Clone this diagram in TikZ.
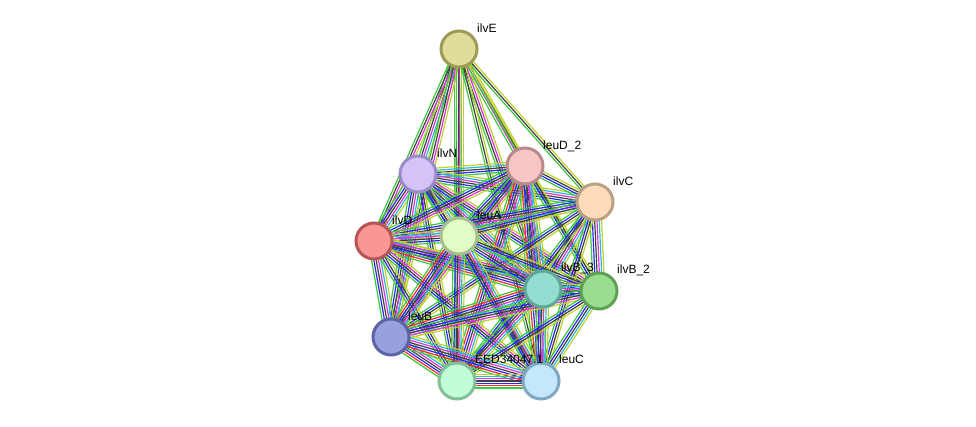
\documentclass[tikz,border=0pt]{standalone}
\usepackage{fontspec}
\setmainfont{Liberation Sans}
\usetikzlibrary{calc,backgrounds}

% evidence channel colours
\definecolor{grn}{RGB}{62,200,62}
\definecolor{frd}{RGB}{250,40,40}
\definecolor{blu}{RGB}{40,40,250}
\definecolor{blk}{RGB}{64,64,64}
\definecolor{mag}{RGB}{222,50,222}
\definecolor{cyn}{RGB}{40,185,225}
\definecolor{yel}{RGB}{190,210,45}

% protein colours (fill, rim)
\definecolor{ilvEf}{RGB}{223,221,155}  \definecolor{ilvEd}{RGB}{158,155,85}
\definecolor{ilvNf}{RGB}{211,195,247}  \definecolor{ilvNd}{RGB}{154,140,200}
\definecolor{leuDf}{RGB}{246,198,198}  \definecolor{leuDd}{RGB}{185,138,138}
\definecolor{ilvCf}{RGB}{253,219,187}  \definecolor{ilvCd}{RGB}{188,160,132}
\definecolor{ilvDf}{RGB}{249,150,150}  \definecolor{ilvDd}{RGB}{184,85,85}
\definecolor{leuAf}{RGB}{227,253,199}  \definecolor{leuAd}{RGB}{167,192,143}
\definecolor{ilvBiiif}{RGB}{148,222,209} \definecolor{ilvBiiid}{RGB}{95,167,151}
\definecolor{ilvBiif}{RGB}{155,221,142}  \definecolor{ilvBiid}{RGB}{93,161,85}
\definecolor{leuBf}{RGB}{152,160,221}  \definecolor{leuBd}{RGB}{92,100,165}
\definecolor{EEDf}{RGB}{194,252,216}   \definecolor{EEDd}{RGB}{128,191,152}
\definecolor{leuCf}{RGB}{195,232,252}  \definecolor{leuCd}{RGB}{127,168,196}

% bundle of parallel evidence lines between two proteins
\newcommand\lnk[3]{%
  \foreach \c [count=\k] in {#3} {\xdef\nlines{\k}}
  \foreach \c [count=\k] in {#3} {
    \pgfmathsetmacro\off{(\k-(\nlines+1)/2)*2.3}
    \draw[evid,\c] ($(#1)!\off pt!90:(#2)$) -- ($(#2)!\off pt!-90:(#1)$);
  }}

\begin{document}
\begin{tikzpicture}[x=1pt,y=-1pt,
  prot/.style={circle,minimum size=36pt,inner sep=0pt,line width=3pt},
  lbl/.style={anchor=base west,inner sep=0pt,font=\fontsize{12}{14}\selectfont},
  evid/.style={line width=1.2pt}]
  \useasboundingbox (0,0) rectangle (976,427);

  % proteins
  \node[prot,fill=ilvEf,draw=ilvEd] (ilvE) at (459,49) {};
  \node[prot,fill=ilvNf,draw=ilvNd] (ilvN) at (418,174) {};
  \node[prot,fill=leuDf,draw=leuDd] (leuD2) at (525,166) {};
  \node[prot,fill=ilvCf,draw=ilvCd] (ilvC) at (595,202) {};
  \node[prot,fill=ilvDf,draw=ilvDd] (ilvD) at (374,241) {};
  \node[prot,fill=leuAf,draw=leuAd] (leuA) at (459,236) {};
  \node[prot,fill=ilvBiiif,draw=ilvBiiid] (ilvB3) at (543,289) {};
  \node[prot,fill=ilvBiif,draw=ilvBiid] (ilvB2) at (599,291) {};
  \node[prot,fill=leuBf,draw=leuBd] (leuB) at (391,337) {};
  \node[prot,fill=EEDf,draw=EEDd] (EED) at (457,381) {};
  \node[prot,fill=leuCf,draw=leuCd] (leuC) at (541,381) {};

  % names
  \node[lbl] (ilvE-t) at ($(ilvE)+(18,-16.5)$) {ilvE};
  \node[lbl] (ilvN-t) at ($(ilvN)+(19,-16.5)$) {ilvN};
  \node[lbl] (leuD2-t) at ($(leuD2)+(18,-16.5)$) {leuD\_2};
  \node[lbl] (ilvC-t) at ($(ilvC)+(18,-16)$) {ilvC};
  \node[lbl] (ilvD-t) at ($(ilvD)+(18,-16.5)$) {ilvD};
  \node[lbl] (leuA-t) at ($(leuA)+(18,-16)$) {leuA};
  \node[lbl] (ilvB3-t) at ($(ilvB3)+(18,-17.5)$) {ilvB\_3};
  \node[lbl] (ilvB2-t) at ($(ilvB2)+(18,-17.5)$) {ilvB\_2};
  \node[lbl] (leuB-t) at ($(leuB)+(17,-16.5)$) {leuB};
  \node[lbl] (EED-t) at ($(EED)+(18,-17.5)$) {EED34047.1};
  \node[lbl] (leuC-t) at ($(leuC)+(18,-17.5)$) {leuC};

  \begin{pgfonlayer}{background}
    \fill[white] (0,0) rectangle (976,427);
    % ilvE
    \lnk{ilvE}{ilvN}{grn,blk,mag,cyn,yel}
    \lnk{ilvE}{ilvD}{grn,blk,mag,yel}
    \lnk{ilvE}{leuA}{grn,blk,mag,cyn,yel}
    \lnk{ilvE}{leuD2}{grn,mag,blk,yel}
    \lnk{ilvE}{ilvC}{grn,blk,yel}
    \lnk{ilvE}{ilvB3}{grn,blk,mag,yel}
    \lnk{ilvE}{ilvB2}{grn,yel}
    \lnk{ilvE}{leuB}{grn,blk,mag,yel}
    \lnk{ilvE}{EED}{grn,blk,yel}
    \lnk{ilvE}{leuC}{grn,blk,yel}
    % ilvN
    \lnk{ilvN}{leuD2}{grn,blu,blk,cyn,yel}
    \lnk{ilvN}{ilvC}{grn,blu,blk,mag,cyn,yel}
    \lnk{ilvN}{ilvD}{grn,blu,blk,mag,cyn,yel}
    \lnk{ilvN}{leuA}{grn,blu,blk,mag,cyn,yel}
    \lnk{ilvN}{ilvB3}{grn,blu,blk,mag,cyn,yel}
    \lnk{ilvN}{ilvB2}{grn,blu,blk,mag,yel}
    \lnk{ilvN}{leuB}{grn,blu,blk,mag,cyn,yel}
    \lnk{ilvN}{EED}{grn,blu,blk,yel}
    \lnk{ilvN}{leuC}{grn,blu,blk,yel}
    % leuD_2
    \lnk{leuD2}{ilvC}{grn,blu,blk,yel}
    \lnk{leuD2}{ilvD}{grn,blu,blk,mag,yel}
    \lnk{leuD2}{leuA}{grn,blu,blk,mag,cyn,yel}
    \lnk{leuD2}{ilvB3}{grn,blu,blk,mag,cyn,yel}
    \lnk{leuD2}{ilvB2}{grn,blu,blk,yel}
    \lnk{leuD2}{leuB}{grn,blu,blk,mag,yel}
    \lnk{leuD2}{EED}{grn,frd,blu,blk,mag,cyn,yel}
    \lnk{leuD2}{leuC}{grn,frd,blu,blk,mag,cyn,yel}
    % ilvC
    \lnk{ilvC}{ilvD}{grn,blu,blk,mag,cyn,yel}
    \lnk{ilvC}{leuA}{grn,blu,blk,yel}
    \lnk{ilvC}{ilvB3}{grn,blu,blk,mag,cyn,yel}
    \lnk{ilvC}{ilvB2}{grn,blu,blk,mag,cyn,yel}
    \lnk{ilvC}{leuB}{grn,blu,blk,yel}
    \lnk{ilvC}{EED}{grn,blu,blk,yel}
    \lnk{ilvC}{leuC}{grn,blu,blk,yel}
    % ilvD
    \lnk{ilvD}{leuA}{grn,blu,blk,mag,cyn,yel}
    \lnk{ilvD}{ilvB3}{grn,frd,blu,blk,mag,cyn,yel}
    \lnk{ilvD}{ilvB2}{grn,blu,blk,mag,yel}
    \lnk{ilvD}{leuB}{grn,blu,blk,mag,cyn,yel}
    \lnk{ilvD}{EED}{grn,blu,blk,yel}
    \lnk{ilvD}{leuC}{grn,blu,blk,mag,yel}
    % leuA
    \lnk{leuA}{ilvB3}{grn,blu,blk,mag,cyn,yel}
    \lnk{leuA}{ilvB2}{grn,blu,blk,yel}
    \lnk{leuA}{leuB}{grn,frd,blu,blk,mag,cyn,yel}
    \lnk{leuA}{EED}{grn,blu,blk,mag,cyn,yel}
    \lnk{leuA}{leuC}{grn,blu,blk,mag,cyn,yel}
    % ilvB_3, ilvB_2
    \lnk{ilvB3}{ilvB2}{grn,blu,blk,mag,cyn,yel}
    \lnk{ilvB3}{leuB}{grn,frd,blu,blk,mag,cyn,yel}
    \lnk{ilvB3}{EED}{grn,blu,blk,mag,cyn,yel}
    \lnk{ilvB3}{leuC}{grn,blu,blk,mag,cyn,yel}
    \lnk{ilvB2}{leuB}{grn,blu,blk,mag,yel}
    \lnk{ilvB2}{EED}{grn,blu,blk,yel}
    \lnk{ilvB2}{leuC}{grn,blu,blk,cyn,yel}
    % bottom row
    \lnk{leuB}{EED}{grn,frd,blu,blk,mag,cyn,yel}
    \lnk{leuB}{leuC}{grn,frd,blu,blk,mag,cyn,yel}
    \lnk{EED}{leuC}{grn,frd,blu,blk,mag,cyn,yel}
  \end{pgfonlayer}
\end{tikzpicture}
\end{document}
